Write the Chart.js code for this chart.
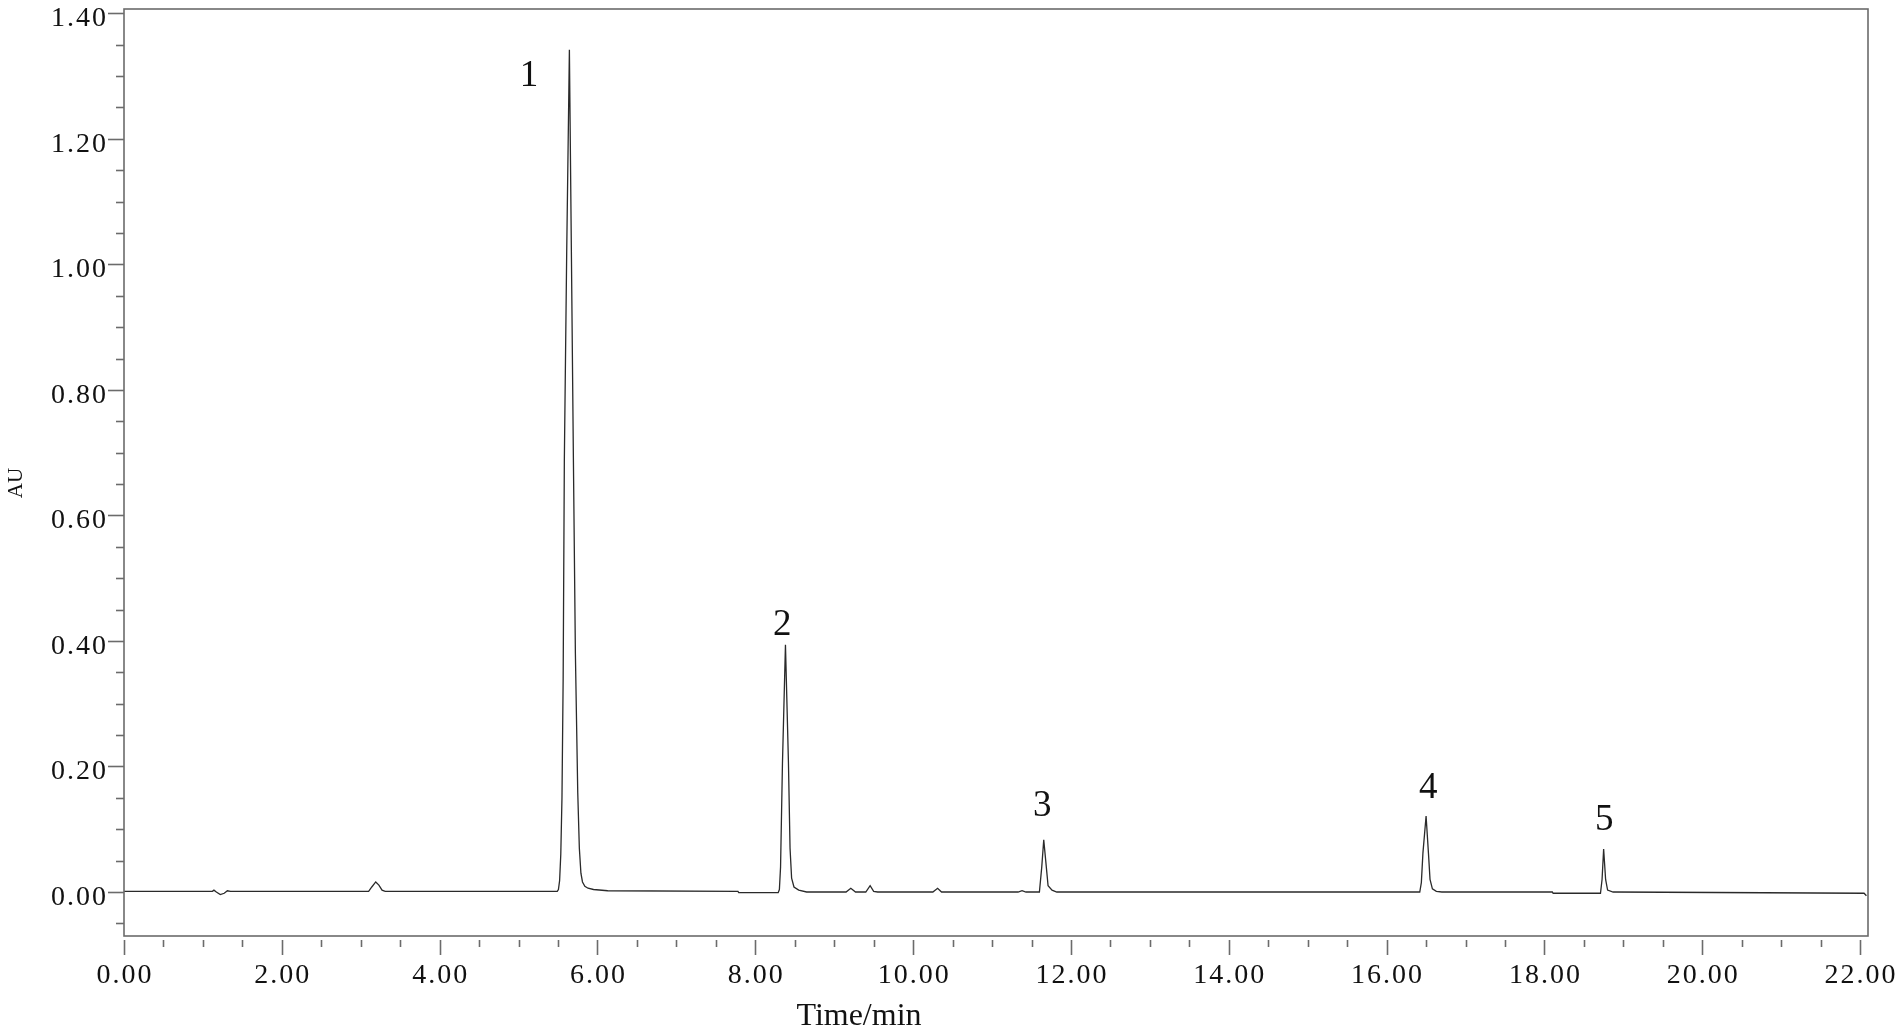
<!DOCTYPE html>
<html>
<head>
<meta charset="utf-8">
<script src="https://cdn.jsdelivr.net/npm/chart.js@4.4.1/dist/chart.umd.min.js"></script>
<style>
  html, body { margin: 0; padding: 0; background: #fff; }
  #wrap { width: 1902px; height: 1036px; position: relative; }
</style>
</head>
<body>
<div id="wrap"><canvas id="chromChart"></canvas></div>
<script>
// chromatogram trace (time in min, absorbance in AU)
const timeMin = [
  0.00, 1.12, 1.14, 1.17, 1.22, 1.27, 1.31, 1.35, 1.38,
  3.10, 3.14, 3.19, 3.23, 3.27, 3.31,
  5.49, 5.505, 5.52, 5.535, 5.55, 5.565, 5.58, 5.61, 5.644, 5.67, 5.695, 5.72, 5.75, 5.77, 5.79, 5.81, 5.84, 5.88, 5.95, 6.13,
  7.78, 7.79,
  8.29, 8.305, 8.32, 8.344, 8.382, 8.42, 8.44, 8.46, 8.49, 8.55, 8.65,
  9.15, 9.21, 9.27, 9.40, 9.455, 9.50, 9.55,
  10.25, 10.31, 10.36,
  11.33, 11.38, 11.43,
  11.60, 11.63, 11.655, 11.68, 11.71, 11.76, 11.82,
  16.42, 16.44, 16.46, 16.50, 16.53, 16.55, 16.58, 16.63, 16.70,
  18.10, 18.11,
  18.71, 18.73, 18.75, 18.775, 18.80, 18.87,
  22.05, 22.08
];
const absorbance = [
  0.001, 0.001, 0.003, 0.000, -0.004, -0.002, 0.002, 0.001, 0.001,
  0.001, 0.008, 0.016, 0.011, 0.003, 0.001,
  0.001, 0.004, 0.018, 0.060, 0.150, 0.340, 0.687, 1.020, 1.342, 1.010, 0.687, 0.380, 0.158, 0.070, 0.030, 0.016, 0.009, 0.006, 0.004, 0.002,
  0.001, -0.001,
  -0.001, 0.004, 0.040, 0.205, 0.394, 0.205, 0.070, 0.022, 0.008, 0.003, 0.000,
  0.000, 0.006, 0.000, 0.000, 0.010, 0.001, 0.000,
  0.000, 0.006, 0.000,
  0.000, 0.002, 0.000,
  0.000, 0.040, 0.083, 0.050, 0.010, 0.003, 0.000,
  0.000, 0.015, 0.062, 0.121, 0.062, 0.020, 0.005, 0.001, 0.000,
  0.000, -0.002,
  -0.002, 0.020, 0.0685, 0.020, 0.003, 0.000,
  -0.002, -0.006
];

const xTicks = [0, 2, 4, 6, 8, 10, 12, 14, 16, 18, 20, 22];
const xTickLabels = ['0.00', '2.00', '4.00', '6.00', '8.00', '10.00', '12.00', '14.00', '16.00', '18.00', '20.00', '22.00'];
const yTicks = [0, 0.2, 0.4, 0.6, 0.8, 1.0, 1.2, 1.4];
const yTickLabels = ['0.00', '0.20', '0.40', '0.60', '0.80', '1.00', '1.20', '1.40'];

// peak numbers and where their text sits (data units)
const peakNames = ['1', '2', '3', '4', '5'];
const peakLabelTime = [5.133, 8.34, 11.635, 16.527, 18.758];
const peakLabelAU = [1.284, 0.4095, 0.1216, 0.1498, 0.0988];

const points = timeMin.map((t, i) => ({ x: t, y: absorbance[i] }));

const axisColor = '#6b6b6b';
const serif = '"Liberation Serif", "DejaVu Serif", serif';

const axesPlugin = {
  id: 'axesPlugin',
  afterDraw(chart) {
    const ctx = chart.ctx;
    const { left, right, top, bottom } = chart.chartArea;
    const xs = chart.scales.x;
    const ys = chart.scales.y;

    ctx.save();
    // frame
    ctx.strokeStyle = axisColor;
    ctx.lineWidth = 1.6;
    ctx.strokeRect(left, top, right - left, bottom - top);

    // y ticks (major + minor)
    for (let v = -0.05; v <= 1.4001; v += 0.05) {
      const y = Math.round(ys.getPixelForValue(v)) + 0.5;
      const major = Math.abs(v / 0.2 - Math.round(v / 0.2)) < 1e-6;
      ctx.beginPath();
      ctx.moveTo(left - (major ? 16 : 8), y);
      ctx.lineTo(left, y);
      ctx.stroke();
    }
    // x ticks, drawn below the frame with a small gap
    for (let v = 0; v <= 22.0001; v += 0.5) {
      const x = Math.round(xs.getPixelForValue(v)) + 0.5;
      const major = Math.abs(v / 2 - Math.round(v / 2)) < 1e-6;
      ctx.beginPath();
      ctx.moveTo(x, bottom + 4);
      ctx.lineTo(x, bottom + (major ? 19 : 11));
      ctx.stroke();
    }

    // tick labels
    ctx.fillStyle = '#111';
    ctx.font = '28px ' + serif;
    ctx.letterSpacing = '2px';
    ctx.textAlign = 'right';
    ctx.textBaseline = 'alphabetic';
    yTicks.forEach((v, i) => {
      ctx.fillText(yTickLabels[i], left - 16, ys.getPixelForValue(v) + 13);
    });
    ctx.textAlign = 'center';
    xTicks.forEach((v, i) => {
      ctx.fillText(xTickLabels[i], xs.getPixelForValue(v) + 1, bottom + 47);
    });
    ctx.letterSpacing = '0px';

    // axis titles
    ctx.font = '32px ' + serif;
    ctx.fillText('Time/min', 859, 1025);
    ctx.save();
    ctx.translate(22, 483);
    ctx.rotate(-Math.PI / 2);
    ctx.font = '21px ' + serif;
    ctx.fillText('AU', 0, 0);
    ctx.restore();

    // peak numbers
    ctx.font = '37px ' + serif;
    peakNames.forEach((name, i) => {
      ctx.fillText(name, xs.getPixelForValue(peakLabelTime[i]), ys.getPixelForValue(peakLabelAU[i]));
    });
    ctx.restore();
  }
};

new Chart(document.getElementById('chromChart'), {
  type: 'line',
  data: {
    datasets: [{
      data: points,
      borderColor: '#2a2a2a',
      borderWidth: 1.3,
      pointRadius: 0,
      tension: 0,
      fill: false
    }]
  },
  options: {
    responsive: true,
    maintainAspectRatio: false,
    animation: false,
    devicePixelRatio: 1,
    layout: { padding: { left: 124, top: 9, right: 34, bottom: 100 } },
    plugins: { legend: { display: false }, tooltip: { enabled: false } },
    scales: {
      x: { type: 'linear', min: 0, max: 22.1, display: false },
      y: { type: 'linear', min: -0.0701, max: 1.4069, display: false }
    }
  },
  plugins: [axesPlugin]
});
</script>
</body>
</html>
